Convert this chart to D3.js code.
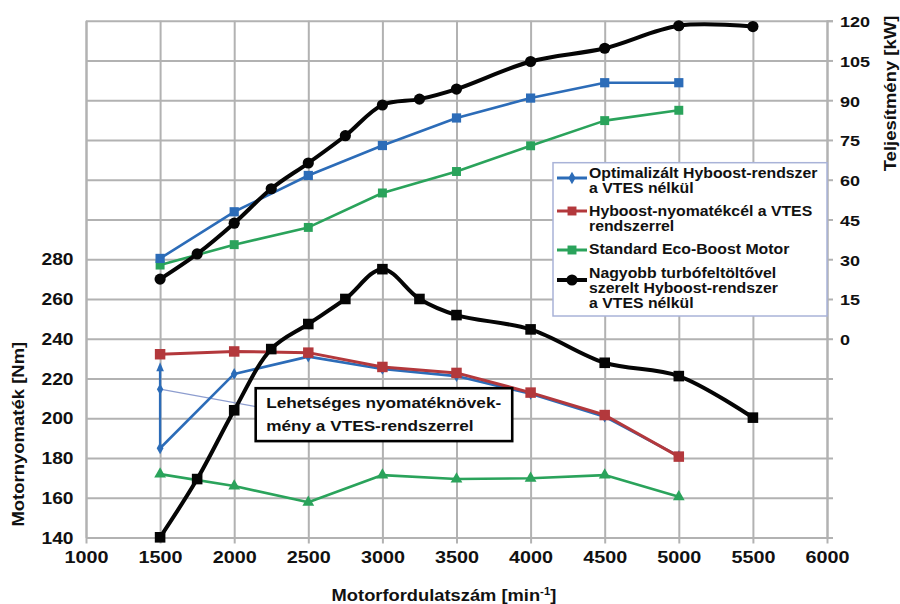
<!DOCTYPE html>
<html><head><meta charset="utf-8">
<script src="https://cdn.jsdelivr.net/npm/d3@7"></script>
<style>
html,body{margin:0;padding:0;background:#fff;}
svg text{font-family:"Liberation Sans",Arial,Helvetica,sans-serif;font-weight:bold;fill:#111;}
</style></head><body>
<svg id="chart" width="900" height="604"></svg>
<script>
// ---------- data ----------
const rpmTicks = [1000,1500,2000,2500,3000,3500,4000,4500,5000,5500,6000];
const torqueGridTicks = [140,160,180,200,220,240,260,280,300,320,340,360,380,400];
const torqueLabelTicks = [140,160,180,200,220,240,260,280];
const powerTicks = [-75,-60,-45,-30,-15,0,15,30,45,60,75,90,105,120];
const powerLabelTicks = [0,15,30,45,60,75,90,105,120];

const rpmMain  = [1500,2000,2500,3000,3500,4000,4500,5000];
const rpmTurbo = [1500,1750,2000,2250,2500,2750,3000,3250,3500,4000,4500,5000,5500];

// power [kW] (right axis)
const powerOptimized = [30.3,47.9,61.6,72.9,83.3,90.8,96.6,96.6];
const powerStandard  = [27.8,35.5,42.0,55.0,63.1,72.8,82.3,86.2];
const powerTurbo     = [22.5,32.0,43.6,56.6,66.3,76.6,88.2,90.4,94.2,104.6,109.6,118.1,117.8];

// torque [Nm] (left axis)
const torqueOptimized = [184.9,222.3,231.0,224.8,221.2,212.3,200.8,180.9];
const torqueTarget    = [232.2,233.6,233.0,225.8,222.8,212.9,201.6,180.7];
const torqueStandard  = [171.9,165.9,157.7,171.4,169.4,169.8,171.4,160.5];
const torqueTurbo     = [140.1,169.4,204.0,234.8,247.4,260.0,275.0,260.0,251.9,244.7,227.9,221.2,200.3];

// annotation (VTES potential at 1500 rpm)
const vtesRpm = 1500;
const vtesFrom = 184.9, vtesTo = 228.2, vtesMid = 214.6;
const leaderEnd = [2150, 205.8];
const noteBox = {rpm0:2145, rpm1:3876, nm0:215.1, nm1:188.5};
const noteLines = ["Lehetséges nyomatéknövek-","mény a VTES-rendszerrel"];

const legendItems = [
  {name:["Optimalizált Hyboost-rendszer","a VTES nélkül"], key:"blue", sym:"diamond"},
  {name:["Hyboost-nyomatékcél a VTES","rendszerrel"], key:"red", sym:"square"},
  {name:["Standard Eco-Boost Motor"], key:"green", sym:"square"},
  {name:["Nagyobb turbófeltöltővel","szerelt Hyboost-rendszer","a VTES nélkül"], key:"black", sym:"circle"}
];

// ---------- style ----------
const C = {blue:"#2c6cb8", red:"#b3383c", green:"#2aa35b", black:"#050505"};
const gridColor = "#b2b2b2";

const svg = d3.select("#chart");
const X0=86, X1=827, YT=20.7, YB=537.5;
const x  = d3.scaleLinear().domain([1000,6000]).range([X0,X1]);
const yT = d3.scaleLinear().domain([140,400]).range([YB,YT]);
const yP = d3.scaleLinear().domain([-75,120]).range([YB,YT]);

// grid
svg.append("g").attr("transform",`translate(0,${YB})`)
  .call(d3.axisBottom(x).tickValues(rpmTicks).tickSize(-(YB-YT)).tickFormat(""))
  .call(g=>{g.select(".domain").remove();g.selectAll("line").attr("stroke",gridColor).attr("stroke-width",2);});
svg.append("g").attr("transform",`translate(${X0},0)`)
  .call(d3.axisLeft(yT).tickValues(torqueGridTicks).tickSize(-(X1-X0)).tickFormat(""))
  .call(g=>{g.select(".domain").remove();g.selectAll("line").attr("stroke",gridColor).attr("stroke-width",2);});

// bottom axis
svg.append("g").attr("transform",`translate(0,${YB})`)
  .call(d3.axisBottom(x).tickValues(rpmTicks).tickSize(6).tickFormat(d3.format("d")))
  .call(g=>{
    g.select(".domain").remove();
    g.selectAll("line").attr("stroke",gridColor).attr("stroke-width",2);
    g.selectAll("text").attr("y",null).attr("dy",null).attr("fill","#111")
      .attr("transform","translate(0,25.8) scale(1.2,1)")
      .style("font-size","16.5px").style("font-family",'"Liberation Sans",Arial,sans-serif').style("font-weight","bold");
  });
// left axis labels
svg.append("g").attr("transform",`translate(${X0},0)`)
  .call(d3.axisLeft(yT).tickValues(torqueLabelTicks).tickSize(0).tickFormat(d3.format("d")))
  .call(g=>{
    g.select(".domain").attr("stroke",gridColor).attr("stroke-width",2);
    g.selectAll("line").remove();
    g.selectAll("text").attr("x",null).attr("dy",null).attr("fill","#111")
      .attr("transform","translate(-12.5,5.7) scale(1.2,1)")
      .style("font-size","16px").style("font-family",'"Liberation Sans",Arial,sans-serif').style("font-weight","bold");
  });
// right axis
svg.append("g").attr("transform",`translate(${X1},0)`)
  .call(d3.axisRight(yP).tickValues(powerTicks).tickSize(6).tickFormat(d=>powerLabelTicks.includes(d)?d3.format("d")(d):""))
  .call(g=>{
    g.select(".domain").attr("stroke",gridColor).attr("stroke-width",2);
    g.selectAll("line").attr("stroke",gridColor).attr("stroke-width",2);
    g.selectAll("text").attr("x",null).attr("dy",null).attr("fill","#111")
      .attr("transform","translate(13,5.8) scale(1.2,1)")
      .style("font-size","15px").style("font-family",'"Liberation Sans",Arial,sans-serif').style("font-weight","bold");
  });

// axis titles
function label(parent, txt, tx, ty, size, anchor, f, rot){
  return parent.append("text")
    .attr("transform",`translate(${tx},${ty})${rot?` rotate(${rot})`:""} scale(${f},1)`)
    .attr("text-anchor",anchor).style("font-size",size+"px").text(txt);
}
label(svg,"Motornyomaték [Nm]",23.5,434.2,16,"middle",1.156,-90);
label(svg,"Teljesítmény [kW]",896,93.5,16,"middle",1.155,-90);
const xt = svg.append("text").attr("transform","translate(444,601) scale(1.145,1)")
  .attr("text-anchor","middle").style("font-size","16px");
xt.append("tspan").text("Motorfordulatszám [min");
xt.append("tspan").attr("dy",-6).style("font-size","10px").text("-1");
xt.append("tspan").attr("dy",6).text("]");

// ---------- series ----------
const lineLin = d3.line().x(d=>x(d[0])).y(d=>d[1]);
const lineSmooth = d3.line().x(d=>x(d[0])).y(d=>d[1]).curve(d3.curveCatmullRom.alpha(0.5));
const zip = (xs, vs, sc) => xs.map((r,i)=>[r, sc(vs[i])]);

const plot = svg.append("g");
function drawSeries(pts, color, width, gen){
  plot.append("path").datum(pts).attr("d",gen).attr("fill","none")
    .attr("stroke",color).attr("stroke-width",width).attr("stroke-linejoin","round");
}
function drawMarkers(pts, color, type, size){
  const g = plot.append("g").attr("fill",color);
  if(type==="circle"){
    g.selectAll("circle").data(pts).join("circle").attr("cx",d=>x(d[0])).attr("cy",d=>d[1]).attr("r",size);
  } else {
    const sym = {square:d3.symbolSquare, diamond:d3.symbolDiamond, triangle:d3.symbolTriangle}[type];
    g.selectAll("path").data(pts).join("path")
      .attr("transform",d=>`translate(${x(d[0])},${d[1]})`)
      .attr("d",d3.symbol(sym,size));
  }
}

const pStd = zip(rpmMain,powerStandard,yP), tStd = zip(rpmMain,torqueStandard,yT);
const pOpt = zip(rpmMain,powerOptimized,yP), tOpt = zip(rpmMain,torqueOptimized,yT);
const tTgt = zip(rpmMain,torqueTarget,yT);
const pTur = zip(rpmTurbo,powerTurbo,yP), tTur = zip(rpmTurbo,torqueTurbo,yT);

// green
drawSeries(pStd,C.green,2.6,lineLin); drawMarkers(pStd,C.green,"square",80);
drawSeries(tStd,C.green,2.6,lineLin); drawMarkers(tStd,C.green,"triangle",60);

// blue leader + arrow
plot.append("line").attr("x1",x(vtesRpm)).attr("y1",yT(vtesMid)).attr("x2",x(leaderEnd[0])).attr("y2",yT(leaderEnd[1]))
  .attr("stroke","#8d9dcf").attr("stroke-width",1.3);
plot.append("line").attr("x1",x(vtesRpm)).attr("x2",x(vtesRpm)).attr("y1",yT(vtesFrom)).attr("y2",yT(vtesTo)+6)
  .attr("stroke",C.blue).attr("stroke-width",2.4);
plot.append("path").attr("fill",C.blue)
  .attr("d",`M${x(vtesRpm)},${yT(vtesTo)} L${x(vtesRpm)-3.8},${yT(vtesTo)+9} L${x(vtesRpm)+3.8},${yT(vtesTo)+9} Z`);
drawMarkers([[vtesRpm,yT(vtesMid)]],C.blue,"diamond",36);

// blue
drawSeries(pOpt,C.blue,2.6,lineLin); drawMarkers(pOpt,C.blue,"square",85);
drawSeries(tOpt,C.blue,2.6,lineLin); drawMarkers(tOpt,C.blue,"diamond",40);

// red
drawSeries(tTgt,C.red,3,lineLin); drawMarkers(tTgt,C.red,"square",110);

// black
drawSeries(pTur,C.black,4,lineSmooth); drawMarkers(pTur,C.black,"circle",5.6);
drawSeries(tTur,C.black,4,lineSmooth); drawMarkers(tTur,C.black,"square",112);

// ---------- annotation box ----------
const nb = svg.append("g");
nb.append("rect").attr("x",x(noteBox.rpm0)).attr("y",yT(noteBox.nm0))
  .attr("width",x(noteBox.rpm1)-x(noteBox.rpm0)).attr("height",yT(noteBox.nm1)-yT(noteBox.nm0))
  .attr("fill","#fff").attr("stroke","#000").attr("stroke-width",2.6);
noteLines.forEach((t,i)=>label(nb,t,x(noteBox.rpm0)+10.5,yT(noteBox.nm0)+20+i*22.4,15.5,"start",1.11));

// ---------- legend ----------
const lg = svg.append("g");
lg.append("rect").attr("x",553).attr("y",162.7).attr("width",274).attr("height",153.3)
  .attr("fill","#fff").attr("stroke","#a9b3d8").attr("stroke-width",1.5);
const rowTop = [178, 216, 254.3, 278.3];
const markerY = [178, 211, 250, 280];
legendItems.forEach((it,i)=>{
  const my = markerY[i];
  lg.append("line").attr("x1",557).attr("x2",587).attr("y1",my).attr("y2",my)
    .attr("stroke",C[it.key]).attr("stroke-width",it.key==="black"?4:3);
  if(it.sym==="circle"){
    lg.append("circle").attr("cx",572).attr("cy",my).attr("r",5.6).attr("fill",C[it.key]);
  } else {
    const sym = it.sym==="square"?d3.symbolSquare:d3.symbolDiamond;
    lg.append("path").attr("transform",`translate(572,${my})`).attr("d",d3.symbol(sym,it.sym==="square"?80:45)).attr("fill",C[it.key]);
  }
  it.name.forEach((t,j)=>label(lg,t,589,rowTop[i]+j*14.8,15,"start",1.055));
});
</script>
</body></html>
